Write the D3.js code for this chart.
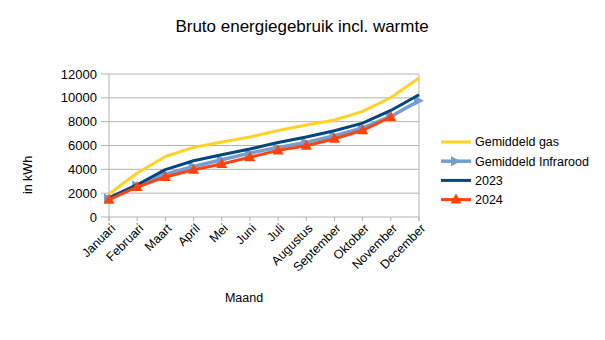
<!DOCTYPE html>
<html><head><meta charset="utf-8">
<script src="https://cdn.jsdelivr.net/npm/d3@7"></script>
<style>body{margin:0;background:#fff}svg{display:block}text{font-family:"Liberation Sans",Arial,sans-serif;fill:#000}</style>
</head><body><div id="chart"></div>
<script>
const months = ["Januari","Februari","Maart","April","Mei","Juni","Juli","Augustus","September","Oktober","November","December"];
const gasAvg = [1930,3690,5080,5840,6290,6710,7260,7720,8140,8860,10030,11660];
const infraAvg = [1550,2650,3600,4240,4800,5360,5840,6260,6820,7470,8440,9760];
const y2023 = [1600,2710,3970,4720,5230,5700,6260,6710,7240,7880,8940,10260];
const y2024 = [1450,2520,3360,3970,4450,5010,5590,5980,6570,7270,8390];
const yTicks = [0,2000,4000,6000,8000,10000,12000];

const W = 605, H = 340;
const svg = d3.select("#chart").append("svg").attr("width", W).attr("height", H);

const x = d3.scalePoint().domain(months).range([109, 419]);
const y = d3.scaleLinear().domain([0, 12000]).range([217, 74]);
const grid = "#b3b3b3";

// horizontal gridlines with short ticks to the left
svg.append("g").selectAll("line").data(yTicks).join("line")
  .attr("x1", 101).attr("x2", 419)
  .attr("y1", d => y(d)).attr("y2", d => y(d))
  .attr("stroke", grid).attr("stroke-width", 1);
// frame verticals
svg.append("line").attr("x1",109).attr("x2",109).attr("y1",y(12000)).attr("y2",y(0)+4).attr("stroke",grid);
svg.append("line").attr("x1",419).attr("x2",419).attr("y1",y(12000)).attr("y2",y(0)+4).attr("stroke",grid);
// x ticks
svg.append("g").selectAll("line").data(months).join("line")
  .attr("x1", d => x(d)).attr("x2", d => x(d))
  .attr("y1", y(0)).attr("y2", y(0) + 4).attr("stroke", grid);

// y tick labels
svg.append("g").selectAll("text").data(yTicks).join("text")
  .attr("x", 97).attr("y", d => y(d)).attr("dy", "0.35em")
  .attr("text-anchor", "end").attr("font-size", 13).text(d => d);

// x labels, rotated
svg.append("g").selectAll("text").data(months).join("text")
  .attr("transform", d => `translate(${x(d)+4},${y(0)+9}) rotate(-45)`)
  .attr("text-anchor", "end").attr("dy", "0.35em").attr("font-size", 12.5).text(d => d);

// titles
svg.append("text").attr("x", 302).attr("y", 32).attr("text-anchor", "middle")
  .attr("font-size", 17).text("Bruto energiegebruik incl. warmte");
svg.append("text").attr("x", 244).attr("y", 302).attr("text-anchor", "middle")
  .attr("font-size", 12.5).text("Maand");
svg.append("text").attr("transform", "translate(32,175) rotate(-90)").attr("text-anchor", "middle")
  .attr("font-size", 12.5).text("in kWh");

const line = d3.line().x((d, i) => x(months[i])).y(d => y(d));
const series = [
  {name: "Gemiddeld gas", data: gasAvg, color: "#ffd320", w: 3, marker: null},
  {name: "Gemiddeld Infrarood", data: infraAvg, color: "#729fcf", w: 3.5, marker: "arrow"},
  {name: "2023", data: y2023, color: "#004586", w: 3, marker: null},
  {name: "2024", data: y2024, color: "#ff420e", w: 3, marker: "tri"}
];

function markerPath(type) {
  if (type === "arrow") return "M-5,-5 L5,0 L-5,5 Z";
  if (type === "tri") return "M0,-6 L5.5,4 L-5.5,4 Z";
  return null;
}

series.forEach(s => {
  svg.append("path").datum(s.data).attr("d", line)
    .attr("fill", "none").attr("stroke", s.color).attr("stroke-width", s.w)
    .attr("stroke-linejoin", "round");
  if (s.marker) {
    svg.append("g").selectAll("path").data(s.data).join("path")
      .attr("transform", (d, i) => `translate(${x(months[i])},${y(d)})`)
      .attr("d", markerPath(s.marker)).attr("fill", s.color);
  }
});

// legend
const lg = svg.append("g");
series.forEach((s, i) => {
  const yy = 142 + i * 19.2;
  lg.append("line").attr("x1", 441).attr("x2", 471).attr("y1", yy).attr("y2", yy)
    .attr("stroke", s.color).attr("stroke-width", s.w);
  if (s.marker) {
    lg.append("path").attr("transform", `translate(456,${yy})`).attr("d", markerPath(s.marker)).attr("fill", s.color);
  }
  lg.append("text").attr("x", 475).attr("y", yy).attr("dy", "0.35em")
    .attr("font-size", 12.5).text(s.name);
});
</script></body></html>
